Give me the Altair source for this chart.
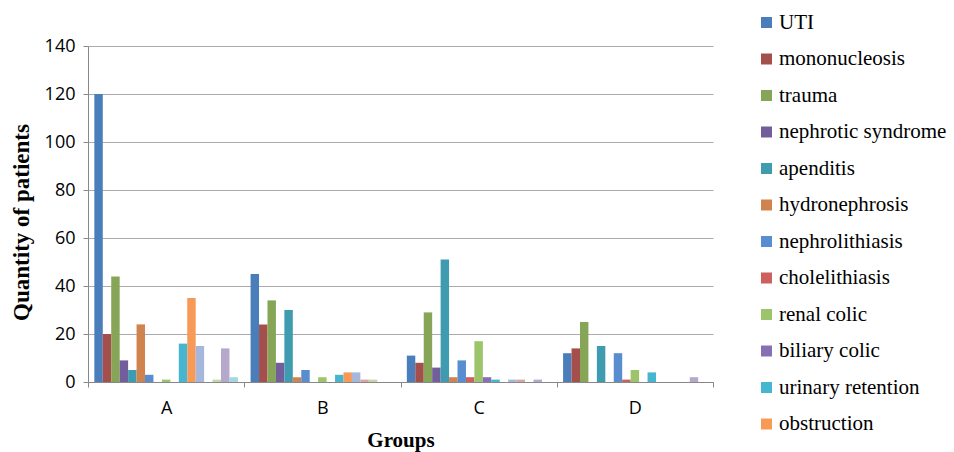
import altair as alt
import pandas as pd

groups = ["A", "B", "C", "D"]
diagnoses = [
    "UTI", "mononucleosis", "trauma", "nephrotic syndrome", "apenditis",
    "hydronephrosis", "nephrolithiasis", "cholelithiasis", "renal colic",
    "biliary colic", "urinary retention", "obstruction",
    "series 13", "series 14", "series 15", "series 16", "series 17",
]
colors = [
    "#4A7EBB", "#A54F4D", "#86A557", "#725E9A", "#3F9BB0", "#D0834D",
    "#588DD0", "#CD5F5C", "#9BC46B", "#8670B3", "#46B5D0", "#F79A57",
    "#A5B8DC", "#DAA4A3", "#C4D6A5", "#B5A8CA", "#A5D4E2",
]
values_A = [120, 20, 44, 9, 5, 24, 3, 0, 1, 0, 16, 35, 15, 0, 1, 14, 2]
values_B = [45, 24, 34, 8, 30, 2, 5, 0, 2, 0, 3, 4, 4, 1, 1, 0, 0]
values_C = [11, 8, 29, 6, 51, 2, 9, 2, 17, 2, 1, 0, 1, 1, 0, 1, 0]
values_D = [12, 14, 25, 0, 15, 0, 12, 1, 5, 0, 4, 0, 0, 0, 0, 2, 0]
y_ticks = [0, 20, 40, 60, 80, 100, 120, 140]

rows = []
for g, vals in zip(groups, [values_A, values_B, values_C, values_D]):
    for d, v in zip(diagnoses, vals):
        rows.append({"group": g, "diagnosis": d, "count": v})
df = pd.DataFrame(rows)

chart = alt.Chart(df).mark_bar().encode(
    x=alt.X(
        "group:N", sort=groups,
        scale=alt.Scale(paddingInner=0, paddingOuter=0),
        axis=alt.Axis(
            title="Groups", tickBand="extent", labelAngle=0,
            labelFont="Open Sans", labelFontSize=18, labelColor="#000000",
            labelPadding=12, tickSize=5, tickColor="#888888",
            domainColor="#888888", grid=False,
            titleFont="Liberation Serif", titleFontSize=21, titleFontWeight="bold",
            titleColor="#000000", titlePadding=12,
        ),
    ),
    xOffset=alt.XOffset(
        "diagnosis:N", sort=diagnoses,
        scale=alt.Scale(paddingInner=0, paddingOuter=0.75),
    ),
    y=alt.Y(
        "count:Q",
        scale=alt.Scale(domain=[0, 140], nice=False),
        axis=alt.Axis(
            title="Quantity of patients", values=y_ticks,
            labelFont="Open Sans", labelFontSize=18, labelColor="#000000",
            labelPadding=8, tickSize=5, tickColor="#888888",
            domainColor="#888888", gridColor="#ABABAB", gridWidth=1,
            titleFont="Liberation Serif", titleFontSize=23, titleFontWeight="bold",
            titleColor="#000000", titleAngle=-90, titleX=-67, titleY=176,
            titleAlign="center", titleBaseline="middle",
        ),
    ),
    color=alt.Color(
        "diagnosis:N", sort=diagnoses,
        scale=alt.Scale(domain=diagnoses, range=colors),
        legend=alt.Legend(
            values=diagnoses[:12], title=None, orient="none",
            legendX=668, legendY=-34, symbolType="square", symbolSize=121,
            symbolStrokeWidth=0, labelFont="Liberation Serif", labelFontSize=21,
            labelColor="#000000", rowPadding=14.5, labelOffset=2, padding=0,
            labelLimit=300,
        ),
    ),
).properties(
    width=625, height=336,
    padding={"left": 88, "top": 46, "right": 241, "bottom": 70},
    autosize="none",
    background="white",
).configure(
    font="Liberation Serif"
).configure_view(stroke=None).configure_legend(
    labelFont="Liberation Serif", labelFontSize=21
)

chart.save("out.html", embed_options={"renderer": "svg", "actions": False})
